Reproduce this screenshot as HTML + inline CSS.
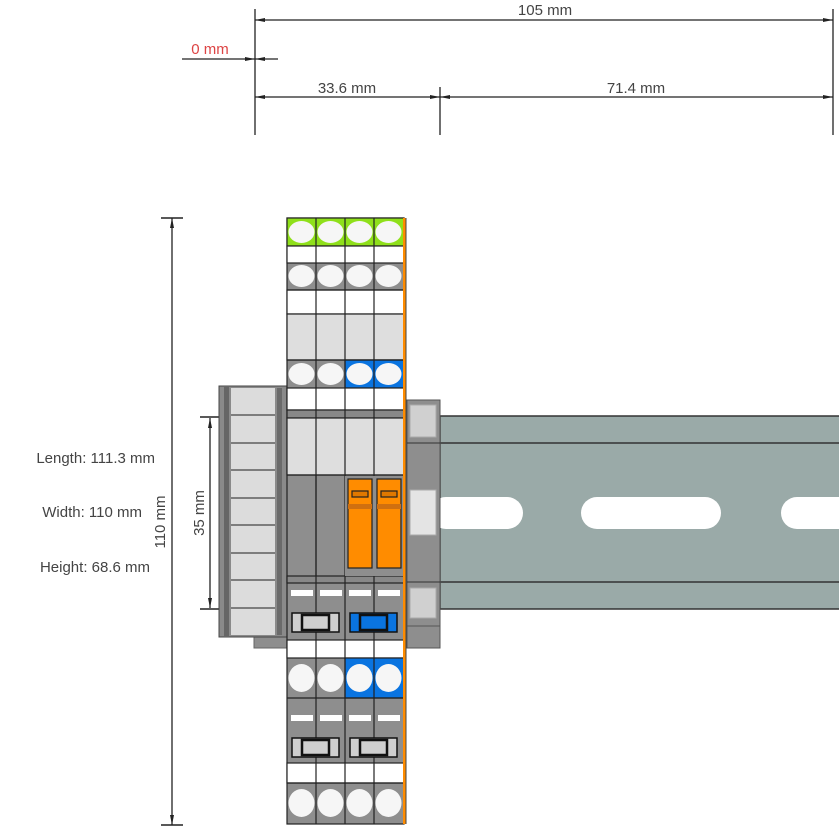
<!DOCTYPE html>
<html><head><style>body{margin:0;background:#fff}svg{display:block}</style></head><body>
<svg width="839" height="829" viewBox="0 0 839 829" xmlns="http://www.w3.org/2000/svg" font-family="Liberation Sans, sans-serif">
<defs>
<marker id="a" markerWidth="10" markerHeight="6" refX="10" refY="3" orient="auto-start-reverse" markerUnits="userSpaceOnUse"><path d="M0,1 L10,3 L0,5z" fill="#222"/></marker>
</defs>
<g stroke="#222" stroke-width="1.3" fill="none">
<line x1="255" y1="9" x2="255" y2="135"/>
<line x1="833" y1="9" x2="833" y2="135"/>
<line x1="440" y1="87" x2="440" y2="135"/>
<line x1="255" y1="20" x2="833" y2="20" marker-start="url(#a)" marker-end="url(#a)"/>
<line x1="255" y1="97" x2="440" y2="97" marker-start="url(#a)" marker-end="url(#a)"/>
<line x1="440" y1="97" x2="833" y2="97" marker-start="url(#a)" marker-end="url(#a)"/>
<line x1="182" y1="59" x2="255" y2="59" marker-end="url(#a)"/>
<line x1="278" y1="59" x2="255" y2="59" marker-end="url(#a)"/>
<line x1="172" y1="218" x2="172" y2="825" marker-start="url(#a)" marker-end="url(#a)"/>
<line x1="210" y1="418" x2="210" y2="608" marker-start="url(#a)" marker-end="url(#a)"/>
<line x1="161" y1="218" x2="183" y2="218" stroke-width="1.5"/>
<line x1="161" y1="825" x2="183" y2="825" stroke-width="1.5"/>
<line x1="200" y1="417" x2="219" y2="417" stroke-width="1.5"/>
<line x1="200" y1="609" x2="219" y2="609" stroke-width="1.5"/>
</g>
<g font-size="15" fill="#444">
<text x="545" y="15" text-anchor="middle">105 mm</text>
<text x="347" y="93" text-anchor="middle">33.6 mm</text>
<text x="636" y="93" text-anchor="middle">71.4 mm</text>
<text x="210" y="54" text-anchor="middle" fill="#d44">0 mm</text>
<text x="155" y="463" text-anchor="end">Length: 111.3 mm</text>
<text x="142" y="517" text-anchor="end">Width: 110 mm</text>
<text x="150" y="572" text-anchor="end">Height: 68.6 mm</text>
<text transform="translate(165,522) rotate(-90)" text-anchor="middle">110 mm</text>
<text transform="translate(204,513) rotate(-90)" text-anchor="middle">35 mm</text>
</g>
<g stroke="#333" stroke-width="1.5">
<rect x="440" y="416" width="405" height="193" fill="#9aaaa8"/>
<line x1="440" y1="443" x2="839" y2="443"/>
<line x1="440" y1="582" x2="839" y2="582"/>
</g>
<g fill="#fff">
<rect x="430" y="497" width="93" height="32" rx="16"/>
<rect x="581" y="497" width="140" height="32" rx="16"/>
<rect x="781" y="497" width="80" height="32" rx="16"/>
</g>
<rect x="407" y="400" width="33" height="248" fill="#8e8e8e" stroke="#555" stroke-width="1"/>
<rect x="410" y="405" width="26" height="32" fill="#d0d0d0" stroke="#aaa"/>
<rect x="410" y="490" width="26" height="45" fill="#e4e4e4" stroke="#aaa"/>
<rect x="410" y="588" width="26" height="30" fill="#d0d0d0" stroke="#aaa"/>
<line x1="407" y1="443" x2="440" y2="443" stroke="#333"/>
<line x1="407" y1="582" x2="440" y2="582" stroke="#333"/>
<line x1="407" y1="626" x2="440" y2="626" stroke="#555"/>
<rect x="254" y="630" width="33" height="18" fill="#8e8e8e" stroke="#666"/>
<rect x="219" y="386" width="68" height="251" fill="#8a8a8a" stroke="#444"/>
<rect x="224" y="386" width="5" height="251" fill="#666"/>
<rect x="231" y="388" width="44" height="247" fill="#dcdcdc"/>
<rect x="277" y="388" width="5" height="247" fill="#6a6a6a"/>
<g stroke="#444" stroke-width="1.2">
<line x1="231" y1="415" x2="275" y2="415"/><line x1="231" y1="443" x2="275" y2="443"/>
<line x1="231" y1="470" x2="275" y2="470"/><line x1="231" y1="498" x2="275" y2="498"/>
<line x1="231" y1="525" x2="275" y2="525"/><line x1="231" y1="553" x2="275" y2="553"/>
<line x1="231" y1="580" x2="275" y2="580"/><line x1="231" y1="608" x2="275" y2="608"/>
</g>
<g stroke="#222" stroke-width="1.2">
<rect x="287" y="218" width="117" height="606" fill="#8e8e8e"/>
<rect x="287" y="218" width="117" height="28" fill="#8fe01a"/>
<rect x="287" y="246" width="117" height="17" fill="#fff"/>
<rect x="287" y="290" width="117" height="24" fill="#fff"/>
<rect x="287" y="314" width="117" height="46" fill="#dedede"/>
<rect x="345" y="360" width="59" height="28" fill="#0a74e0"/>
<rect x="287" y="388" width="117" height="22" fill="#fff"/>
<rect x="287" y="410" width="117" height="8" fill="#888"/>
<rect x="287" y="418" width="117" height="57" fill="#dedede"/>
<rect x="287" y="576" width="117" height="7" fill="#888"/>
<rect x="287" y="640" width="117" height="18" fill="#fff"/>
<rect x="345" y="658" width="59" height="40" fill="#0a74e0"/>
<rect x="287" y="763" width="117" height="20" fill="#fff"/>
<line x1="287" y1="290" x2="404" y2="290"/><line x1="287" y1="360" x2="404" y2="360"/>
<line x1="287" y1="698" x2="404" y2="698"/><line x1="287" y1="783" x2="404" y2="783"/>
<line x1="316" y1="218" x2="316" y2="824"/><line x1="345" y1="218" x2="345" y2="824"/><line x1="374" y1="218" x2="374" y2="824"/>
</g>
<g fill="#f6f6f6">
<ellipse cx="301.5" cy="232" rx="13" ry="11"/><ellipse cx="330.5" cy="232" rx="13" ry="11"/><ellipse cx="359.5" cy="232" rx="13" ry="11"/><ellipse cx="388.5" cy="232" rx="13" ry="11"/>
<ellipse cx="301.5" cy="276" rx="13" ry="11"/><ellipse cx="330.5" cy="276" rx="13" ry="11"/><ellipse cx="359.5" cy="276" rx="13" ry="11"/><ellipse cx="388.5" cy="276" rx="13" ry="11"/>
<ellipse cx="301.5" cy="374" rx="13" ry="11"/><ellipse cx="330.5" cy="374" rx="13" ry="11"/><ellipse cx="359.5" cy="374" rx="13" ry="11"/><ellipse cx="388.5" cy="374" rx="13" ry="11"/>
<ellipse cx="301.5" cy="678" rx="13" ry="14"/><ellipse cx="330.5" cy="678" rx="13" ry="14"/><ellipse cx="359.5" cy="678" rx="13" ry="14"/><ellipse cx="388.5" cy="678" rx="13" ry="14"/>
<ellipse cx="301.5" cy="803" rx="13" ry="14"/><ellipse cx="330.5" cy="803" rx="13" ry="14"/><ellipse cx="359.5" cy="803" rx="13" ry="14"/><ellipse cx="388.5" cy="803" rx="13" ry="14"/>
</g>
<rect x="345" y="476" width="59" height="100" fill="#8e8e8e"/>
<g stroke="#222" stroke-width="1.2" fill="#ff8c00">
<rect x="348" y="479" width="24" height="89"/><rect x="377" y="479" width="24" height="89"/>
<rect x="352" y="491" width="16" height="6" fill="#e07800"/><rect x="381" y="491" width="16" height="6" fill="#e07800"/>
</g>
<rect x="348" y="504" width="24" height="5" fill="#d07010"/><rect x="377" y="504" width="24" height="5" fill="#d07010"/>
<line x1="316" y1="475" x2="316" y2="576" stroke="#222" stroke-width="1.2"/>
<line x1="287" y1="475" x2="404" y2="475" stroke="#222" stroke-width="1.2"/>
<g fill="#fff">
<rect x="291" y="590" width="22" height="6"/><rect x="320" y="590" width="22" height="6"/><rect x="349" y="590" width="22" height="6"/><rect x="378" y="590" width="22" height="6"/>
<rect x="291" y="715" width="22" height="6"/><rect x="320" y="715" width="22" height="6"/><rect x="349" y="715" width="22" height="6"/><rect x="378" y="715" width="22" height="6"/>
</g>
<g stroke="#111" stroke-width="1.5">
<rect x="292" y="613" width="47" height="19" fill="#cfcfcf"/><rect x="302" y="615" width="27" height="15" fill="#cfcfcf" stroke-width="2.5"/>
<rect x="350" y="613" width="47" height="19" fill="#0a74e0"/><rect x="360" y="615" width="27" height="15" fill="#0a74e0" stroke-width="2.5"/>
<rect x="292" y="738" width="47" height="19" fill="#cfcfcf"/><rect x="302" y="740" width="27" height="15" fill="#cfcfcf" stroke-width="2.5"/>
<rect x="350" y="738" width="47" height="19" fill="#cfcfcf"/><rect x="360" y="740" width="27" height="15" fill="#cfcfcf" stroke-width="2.5"/>
</g>
<rect x="403" y="218" width="3" height="606" fill="#ff8c00"/>
<line x1="406" y1="218" x2="406" y2="824" stroke="#444"/>
</svg>
</body></html>
